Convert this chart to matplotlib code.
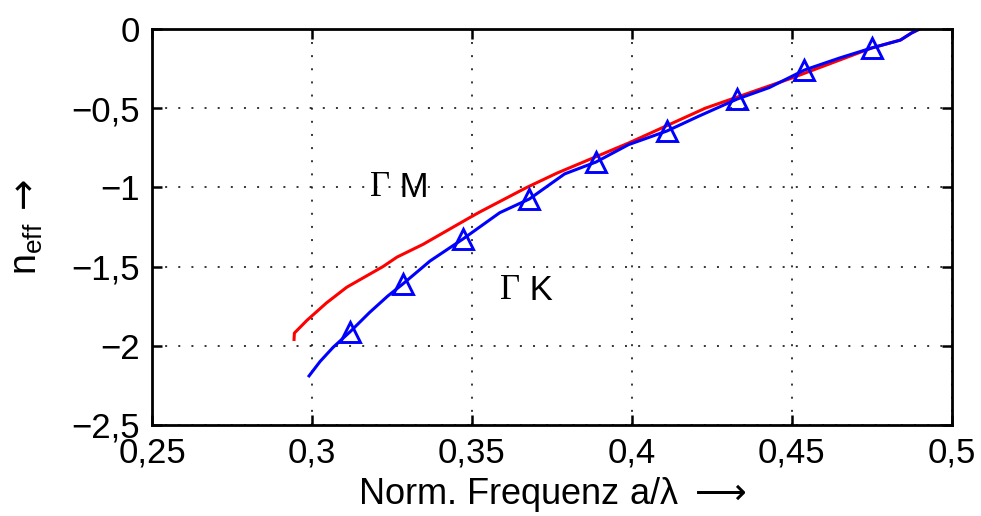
import matplotlib
matplotlib.use("Agg")
import matplotlib.pyplot as plt

# Gamma-M branch (red)
gm_x = [0.2944, 0.2945, 0.2984, 0.3045, 0.3109, 0.3222, 0.3266, 0.3347, 0.3494, 0.3525,
        0.3672, 0.3766, 0.3990, 0.4230, 0.4500, 0.4750, 0.4840, 0.4875, 0.4900]
gm_y = [-1.96, -1.92, -1.84, -1.73, -1.63, -1.50, -1.44, -1.36, -1.19, -1.155,
        -1.00, -0.91, -0.72, -0.50, -0.31, -0.12, -0.07, -0.025, 0.0]

# Gamma-K branch (blue)
gk_x = [0.2991, 0.3025, 0.3066, 0.3120, 0.3180, 0.3237, 0.3284, 0.3369, 0.3472, 0.3587,
        0.3680, 0.3790, 0.3888, 0.3990, 0.4110, 0.4210, 0.4330, 0.4430, 0.4540, 0.4650,
        0.4750, 0.4840, 0.4875, 0.4900]
gk_y = [-2.19, -2.10, -2.01, -1.91, -1.79, -1.686, -1.61, -1.465, -1.326, -1.16,
        -1.073, -0.915, -0.84, -0.73, -0.644, -0.55, -0.442, -0.37, -0.259, -0.183,
        -0.12, -0.07, -0.025, 0.0]
gk_marker_idx = [3, 6, 8, 10, 12, 14, 16, 18, 20]

x_ticks = [0.25, 0.3, 0.35, 0.4, 0.45, 0.5]
x_ticklabels = ["0,25", "0,3", "0,35", "0,4", "0,45", "0,5"]
y_ticks = [-2.5, -2, -1.5, -1, -0.5, 0]
y_ticklabels = ["\u22122,5", "\u22122", "\u22121,5", "\u22121", "\u22120,5", "0"]

plt.rcParams['font.family'] = ['Liberation Sans', 'DejaVu Sans']
plt.rcParams['mathtext.fontset'] = 'dejavusans'

fig = plt.figure(figsize=(9.81, 5.16), dpi=100)
ax = fig.add_axes([0.155, 0.1764, 0.815, 0.7674])

ax.plot(gm_x, gm_y, color='#ff0000', lw=2.2)
ax.plot(gk_x, gk_y, color='#0000ff', lw=2.2, marker='^', markevery=gk_marker_idx,
        markersize=14, markerfacecolor='none', markeredgecolor='#0000ff', markeredgewidth=2.1)

ax.set_xlim(0.25, 0.5)
ax.set_ylim(-2.5, 0)
ax.set_xticks(x_ticks)
ax.set_xticklabels(x_ticklabels)
ax.set_yticks(y_ticks)
ax.set_yticklabels(y_ticklabels)
ax.tick_params(direction='in', length=7, width=1.8, labelsize=25, top=True, right=True)
ax.tick_params(axis='x', pad=8)
ax.tick_params(axis='y', pad=9)
for s in ax.spines.values():
    s.set_linewidth(2.0)
ax.grid(True, color='black', linestyle=(0, (1.3, 7.3)), linewidth=1.1)

def gamma_label(x, y, letter):
    ax.text(x, y, "\u0393", fontsize=25, ha='right', va='center',
            family=['Liberation Serif', 'DejaVu Serif'])
    ax.annotate(" " + letter, xy=(x, y), xycoords='data', fontsize=25,
                ha='left', va='center', family=['Liberation Sans', 'DejaVu Sans'])

gamma_label(0.3245, -1.0, "M")
gamma_label(0.3652, -1.65, "K")

ax.set_xlabel("Norm. Frequenz a/\u03bb $\\longrightarrow$", fontsize=26, labelpad=4)
ax.set_ylabel("n$_{\\mathregular{eff}}\\,\\rightarrow$", fontsize=27, labelpad=19)

fig.savefig("out.png", dpi=100)
